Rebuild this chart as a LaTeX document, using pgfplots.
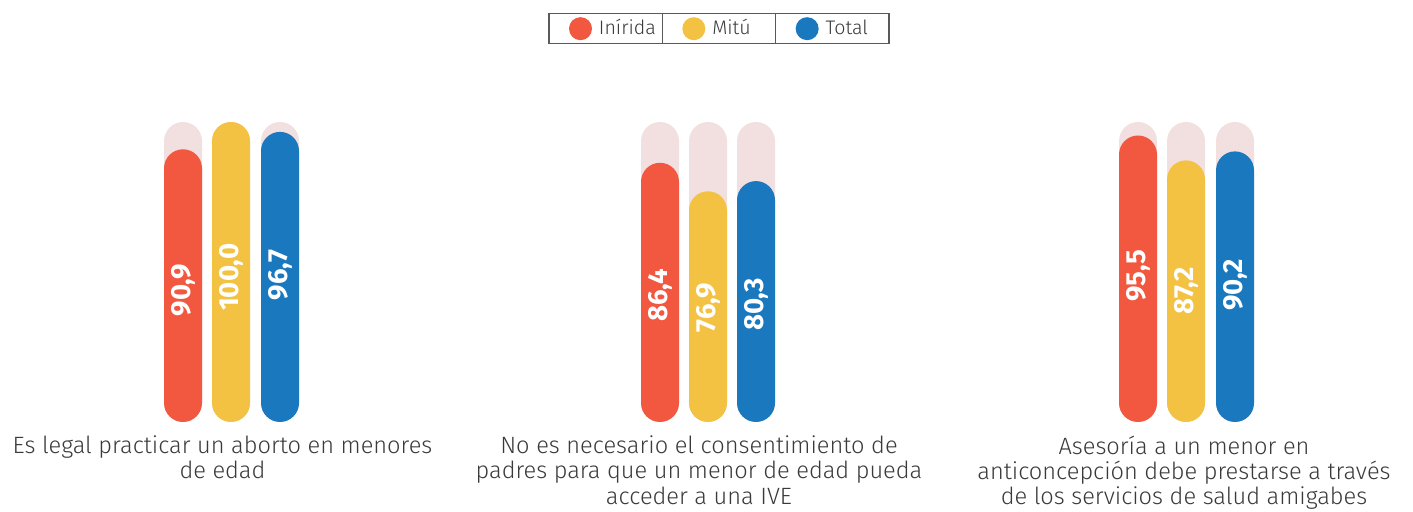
\documentclass[border=0pt]{standalone}
\usepackage{fontspec}
\setmainfont{Fira Sans}[UprightFont=* Light, BoldFont=* Bold]
\usepackage{pgfplots}
\pgfplotsset{compat=1.18}
\definecolor{cR}{HTML}{F2573F}
\definecolor{cY}{HTML}{F4C242}
\definecolor{cB}{HTML}{1A78BF}
\definecolor{cP}{HTML}{F2E0E0}
\definecolor{txt}{HTML}{3A3A3A}
\pgfplotsset{
  pill/.style={ybar, bar width=38, bar shift=0pt, draw=none, rounded corners=9.5pt},
  pill legend/.style={legend image code/.code={\path[fill=none, draw=none] (0pt,-7.5pt) rectangle (25pt,7.5pt); \fill[##1, draw=none, rounded corners=0pt] (15.75pt,0pt) circle (5.75pt);}},
}
\begin{document}
\begin{tikzpicture}
\begin{axis}[
  scale only axis, width=706.5pt, height=256pt,
  xmin=0, xmax=1413, ymin=-30, ymax=140.6667,
  hide axis, clip=false,
  legend columns=3,
  legend style={name=leg, at={(axis cs:719,131.1)}, anchor=center,
    draw=black!65, line width=0.75pt, inner sep=0pt, outer sep=0pt,
    column sep=0pt, row sep=0pt,
    nodes={inner sep=0pt, outer sep=0pt, font=\fontsize{9.8}{11}\selectfont, text=txt},
    /tikz/every even column/.append style={nodes={text width=31.67pt, align=left}}},
]
\addplot[pill, fill=cP, forget plot] coordinates {(183,100)(231,100)(280,100)(660,100)(708,100)(756,100)(1138,100)(1186,100)(1235,100)};
\addplot[pill, fill=cR, pill legend] coordinates {(183,90.9)(660,86.4)(1138,95.5)};
\addplot[pill, fill=cY, pill legend] coordinates {(231,100)(708,76.9)(1186,87.2)};
\addplot[pill, fill=cB, pill legend] coordinates {(280,96.7)(756,80.3)(1235,90.2)};
\legend{Inírida, Mitú, Total}
\addplot[forget plot, only marks, mark=none, nodes near coords, point meta=explicit symbolic,
  every node near coord/.append style={rotate=90, anchor=center, text=white, inner sep=0pt, font=\bfseries\fontsize{13.8}{13.8}\selectfont}]
  table[meta=lab] {
x y lab
183 44.0 90,9
231 48.2 100,0
280 49.0 96,7
660 42.3 86,4
708 38.2 76,9
756 39.2 80,3
1138 48.8 95,5
1186 43.7 87,2
1235 45.7 90,2
};
\node[anchor=north, align=center, inner sep=0pt, text=txt, font=\fontsize{11.8}{12.6}\selectfont] at (axis cs:222.5,-4.5) {Es legal practicar un aborto en menores\\de edad};
\node[anchor=north, align=center, inner sep=0pt, text=txt, font=\fontsize{11.8}{12.6}\selectfont] at (axis cs:699,-4.5) {No es necesario el consentimiento de\\padres para que un menor de edad pueda\\acceder a una IVE};
\node[anchor=north, align=center, inner sep=0pt, text=txt, font=\fontsize{11.8}{12.6}\selectfont] at (axis cs:1184,-4.5) {Asesoría a un menor en\\anticoncepción debe prestarse a través\\de los servicios de salud amigabes};
\end{axis}
\draw[black!65, line width=0.75pt] ([xshift=56.67pt]leg.north west) -- ([xshift=56.67pt]leg.south west);
\draw[black!65, line width=0.75pt] ([xshift=113.33pt]leg.north west) -- ([xshift=113.33pt]leg.south west);
\pgfresetboundingbox
\path (current axis.south west) rectangle (current axis.north east);
\end{tikzpicture}
\end{document}
